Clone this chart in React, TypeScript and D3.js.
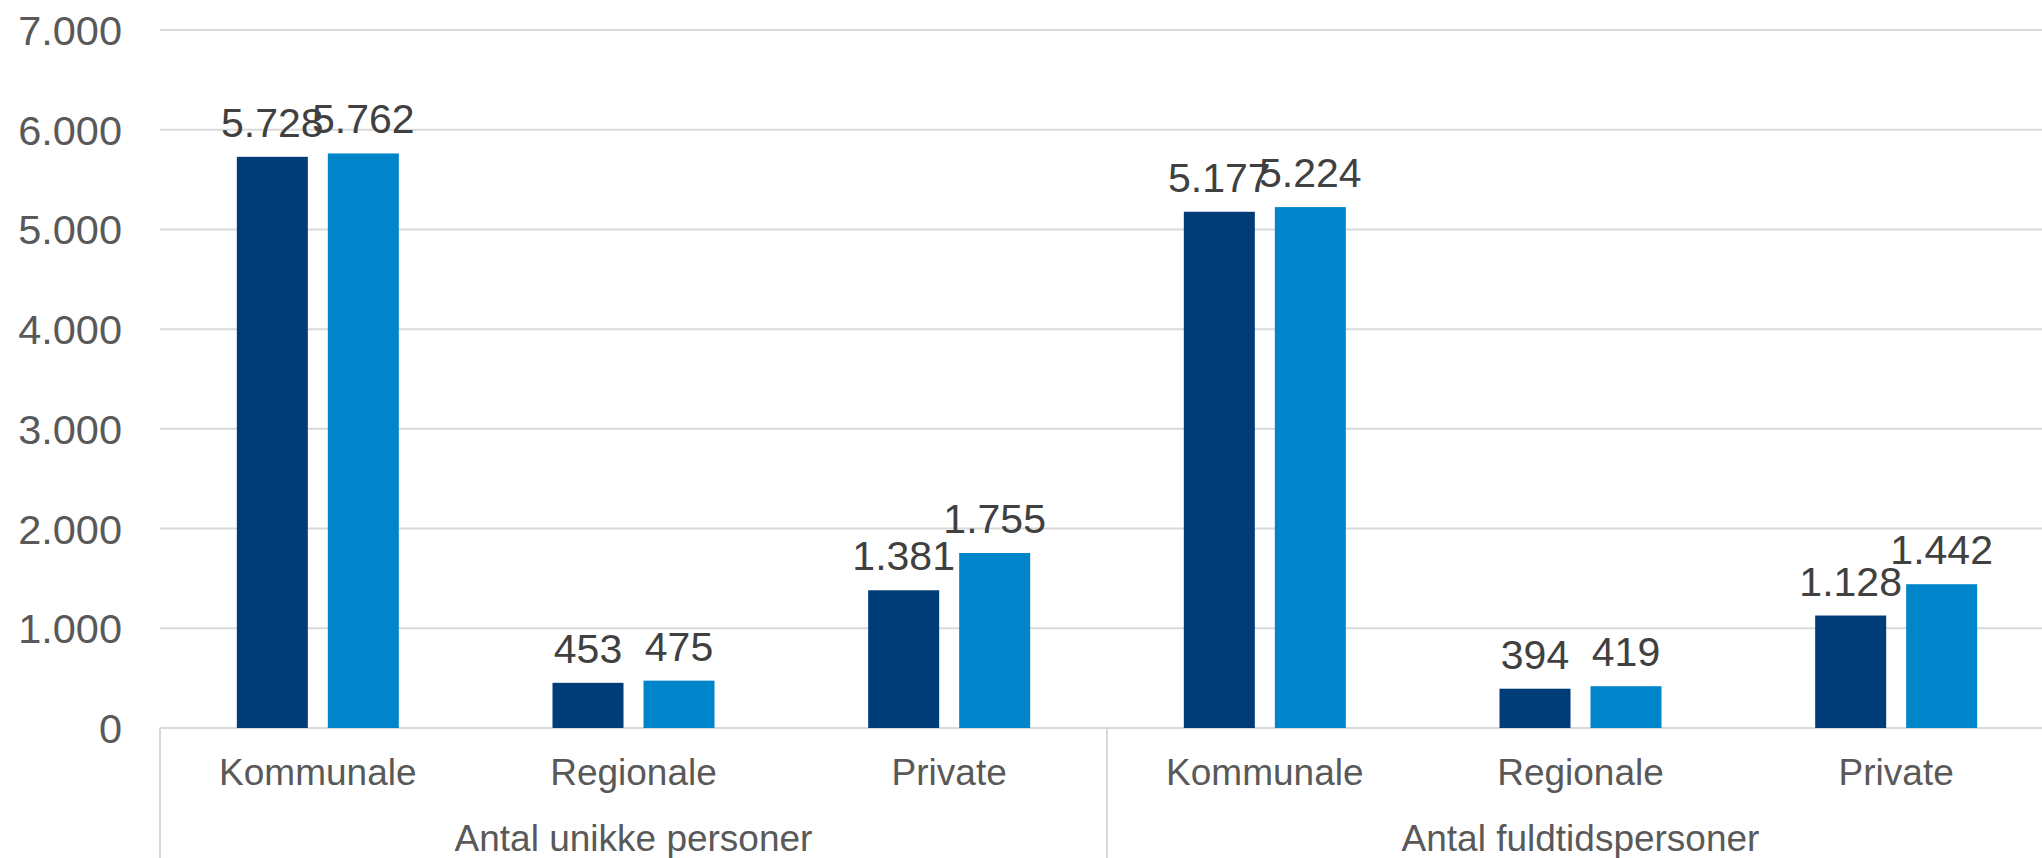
import React from "react";
import * as d3 from "d3";

const groups = ["Antal unikke personer", "Antal fuldtidspersoner"];
const subcats = ["Kommunale", "Regionale", "Private"];
const seriesA = [5728, 453, 1381, 5177, 394, 1128];
const seriesB = [5762, 475, 1755, 5224, 419, 1442];
const seriesNames = ["A", "B"];
const yTicks = [0, 1000, 2000, 3000, 4000, 5000, 6000, 7000];
const colors = ["#003C78", "#0085CA"];

const W = 2042;
const H = 858;
const fmt = (v: number) => d3.format(",")(v).replace(/,/g, ".");

export default function App() {
  const left = 160;
  const right = 2054;
  const y = d3.scaleLinear().domain([0, 7000]).range([728, 30]);
  const cats = groups.flatMap((g, gi) => subcats.map((s) => `${gi}|${s}`));
  const x0 = d3.scaleBand().domain(cats).range([left, right]).padding(0);
  const bw = x0.bandwidth();
  const pi = 20 / 91;
  const step = 91;
  const po = (bw / step - 2 + pi) / 2;
  const x1 = d3.scaleBand().domain(seriesNames).range([0, bw]).paddingInner(pi).paddingOuter(po);
  const groupW = (right - left) / groups.length;
  const grid = "#d9d9d9";
  const font = "Arial, 'Liberation Sans', sans-serif";

  return (
    <svg width={W} height={H} style={{ position: "absolute", left: 0, top: 0, background: "#fff" }} fontFamily={font}>
      {yTicks.map((t) => (
        <g key={t}>
          <line x1={left} x2={W} y1={y(t)} y2={y(t)} stroke={grid} strokeWidth={2} />
          <text x={122} y={y(t)} dy="0.36em" textAnchor="end" fontSize={41.5} fill="#595959">
            {fmt(t)}
          </text>
        </g>
      ))}
      {groups.map((g, gi) => (
        <line key={g} x1={left + gi * groupW} x2={left + gi * groupW} y1={y(0)} y2={H} stroke={grid} strokeWidth={2} />
      ))}
      {cats.map((c, i) => {
        const vals = [seriesA[i], seriesB[i]];
        return (
          <g key={c}>
            {vals.map((v, si) => {
              const bx = (x0(c) as number) + (x1(seriesNames[si]) as number);
              return (
                <g key={si}>
                  <rect x={bx} y={y(v)} width={x1.bandwidth()} height={y(0) - y(v)} fill={colors[si]} />
                  <text x={bx + x1.bandwidth() / 2} y={y(v) - 20} textAnchor="middle" fontSize={41} fill="#404040">
                    {fmt(v)}
                  </text>
                </g>
              );
            })}
            <text x={(x0(c) as number) + bw / 2} y={785} textAnchor="middle" fontSize={37} fill="#595959">
              {c.split("|")[1]}
            </text>
          </g>
        );
      })}
      {groups.map((g, gi) => (
        <text key={g} x={left + gi * groupW + groupW / 2} y={851} textAnchor="middle" fontSize={37} fill="#595959">
          {g}
        </text>
      ))}
    </svg>
  );
}
